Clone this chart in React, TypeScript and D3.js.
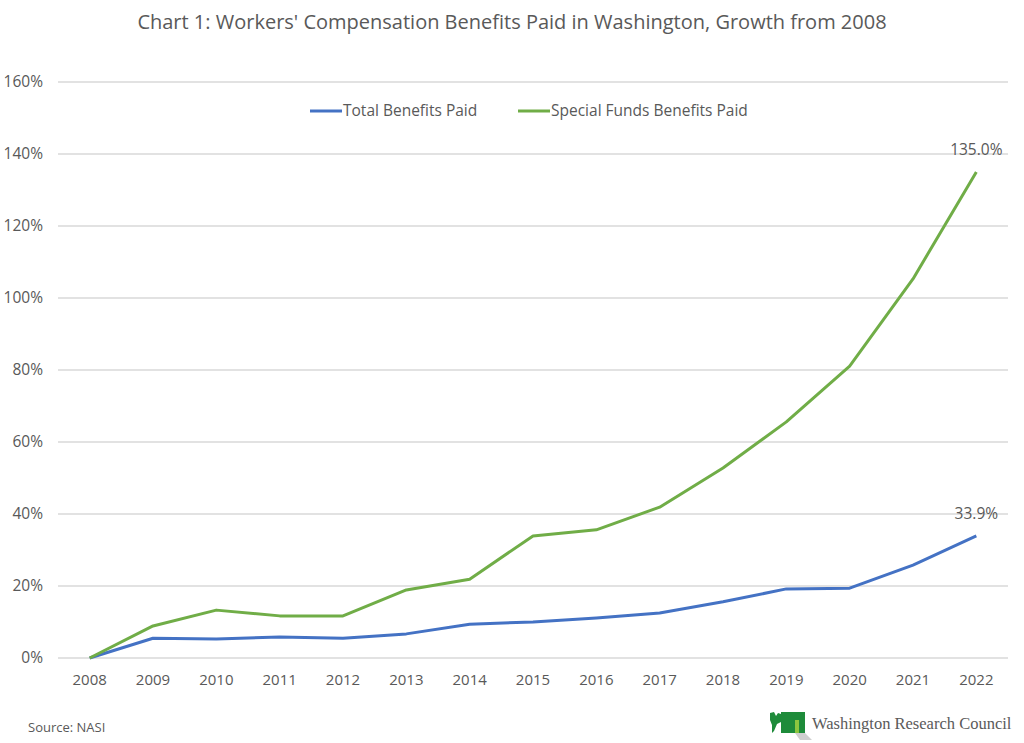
import React from 'react';
import * as d3 from 'd3';

const years = ['2008', '2009', '2010', '2011', '2012', '2013', '2014', '2015', '2016', '2017', '2018', '2019', '2020', '2021', '2022'];
const totalPaid = [0, 5.5, 5.3, 5.8, 5.5, 6.7, 9.4, 10.0, 11.1, 12.5, 15.6, 19.2, 19.4, 25.8, 33.9];
const specialPaid = [0, 8.9, 13.3, 11.7, 11.7, 18.9, 21.9, 33.9, 35.6, 41.9, 52.8, 65.6, 81.1, 105.3, 135.0];
const yTicks = [0, 20, 40, 60, 80, 100, 120, 140, 160];

const font = '"Segoe UI", "Open Sans", "Noto Sans", sans-serif';
const grey = '#595959';

const App: React.FC = () => {
  const width = 1024;
  const height = 743;

  const x = d3.scaleBand<string>().domain(years).range([58, 1008]);
  const y = d3.scaleLinear().domain([0, 160]).range([658, 82]);
  const cx = (yr: string) => (x(yr) ?? 0) + x.bandwidth() / 2;

  const line = d3.line<number>()
    .x((_, i) => cx(years[i]))
    .y((d) => y(d));

  const series = [
    { name: 'Total Benefits Paid', values: totalPaid, color: '#4472C4', lx: 310 },
    { name: 'Special Funds Benefits Paid', values: specialPaid, color: '#70AD47', lx: 518 },
  ];

  return (
    <svg width={width} height={height} style={{ position: 'absolute', left: 0, top: 0, background: '#fff' }} fontFamily={font}>
      <text x={512} y={29} textAnchor="middle" fontSize={20} fill={grey}>
        Chart 1: Workers' Compensation Benefits Paid in Washington, Growth from 2008
      </text>

      {yTicks.map((t) => (
        <g key={t}>
          <line x1={58} x2={1008} y1={y(t)} y2={y(t)} stroke="#d9d9d9" strokeWidth={1.3} />
          <text x={43} y={y(t) + 5} textAnchor="end" fontSize={15.5} fill={grey}>{t}%</text>
        </g>
      ))}

      {years.map((yr) => (
        <text key={yr} x={cx(yr)} y={685} textAnchor="middle" fontSize={15} fill={grey}>{yr}</text>
      ))}

      {series.map((s) => (
        <path key={s.name} d={line(s.values) ?? ''} fill="none" stroke={s.color} strokeWidth={3} strokeLinejoin="round" />
      ))}

      {series.map((s) => (
        <g key={s.name + '-lg'}>
          <line x1={s.lx} x2={s.lx + 32} y1={111} y2={111} stroke={s.color} strokeWidth={3} />
          <text x={s.lx + 33} y={116} fontSize={15.5} fill={grey}>{s.name}</text>
        </g>
      ))}

      {series.map((s) => {
        const last = s.values[s.values.length - 1];
        return (
          <text key={s.name + '-lab'} x={cx(years[years.length - 1])} y={y(last) - 17} textAnchor="middle" fontSize={15.5} fill={grey}>
            {last.toFixed(1)}%
          </text>
        );
      })}

      <text x={28} y={732} fontSize={13} fill={grey}>Source: NASI</text>

      <g>
        <path d="M770,713 L774,712 L776,716 L778,713 L781,714 L781,722 L777,724 L774,731 L772,733 L772,725 L770,720 Z" fill="#1e8b3a" />
        <path d="M781,712 L805,712 L805,733 L799,733 L799,720 L795,720 L795,733 L781,733 Z" fill="#1e8b3a" />
        <rect x={795} y={720} width={4} height={13} fill="#8cc63f" />
        <path d="M795,733 L805,733 L812,740 L800,740 Z" fill="#cfcfcf" />
        <text x={812} y={729} fontSize={16.5} fill="#5a5a5a" fontFamily='"Liberation Serif", "DejaVu Serif", serif'>
          Washington Research Council
        </text>
      </g>
    </svg>
  );
};

export default App;
